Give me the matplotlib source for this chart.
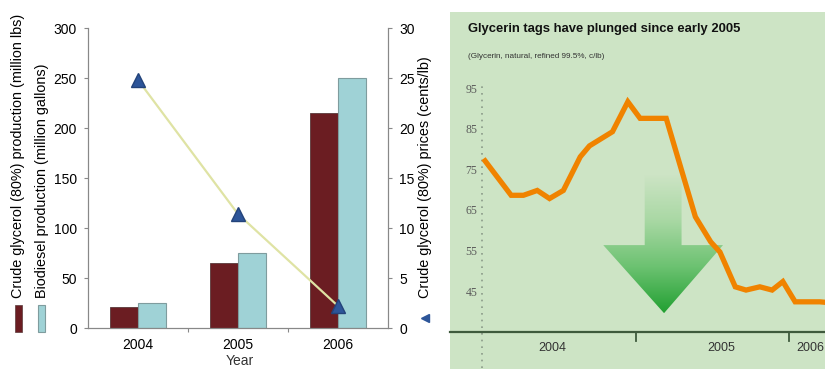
import numpy as np
import matplotlib
matplotlib.use("Agg")
import matplotlib.pyplot as plt
from matplotlib import font_manager as fm
from matplotlib.patches import Rectangle, Polygon
from matplotlib.colors import LinearSegmentedColormap

# left panel data
years = ["2004", "2005", "2006"]
glycerol_mlbs = [21, 65, 215]
biodiesel_mgal = [25, 75, 250]
glycerol_price = [24.8, 11.4, 2.2]

# right panel data (fractional year, cents/lb)
price_t = [2004.02, 2004.19, 2004.27, 2004.36, 2004.44, 2004.53, 2004.64, 2004.70,
           2004.85, 2004.95, 2005.03, 2005.20, 2005.30, 2005.39, 2005.49, 2005.55,
           2005.65, 2005.72, 2005.81, 2005.89, 2005.96, 2006.04, 2006.20, 2006.26]
price_v = [77.5, 69.0, 69.0, 70.2, 68.2, 70.2, 78.5, 81.2,
           84.7, 92.1, 88.0, 88.0, 75.2, 63.7, 57.5, 55.0,
           46.4, 45.6, 46.4, 45.6, 47.7, 42.7, 42.7, 42.5]
yticks_r = [45, 55, 65, 75, 85, 95]

W, H = 825, 369
fig = plt.figure(figsize=(W / 100, H / 100), dpi=100)


def box(x0, y0, x1, y1):
    # pixel box (top-left origin) -> figure fraction rect
    return [x0 / W, (H - y1) / H, (x1 - x0) / W, (y1 - y0) / H]


names = {f.name for f in fm.fontManager.ttflist}
sans = "Liberation Sans" if "Liberation Sans" in names else "DejaVu Sans"
serif = "Liberation Serif" if "Liberation Serif" in names else "DejaVu Serif"

# ---------------- left: bars + prices ----------------
ax = fig.add_axes(box(88, 28, 388, 328))
x = np.arange(len(years))
bw = 0.28
ax.bar(x - bw / 2, glycerol_mlbs, bw, color="#6b1d22", edgecolor="#5a3a3a", linewidth=0.6)
ax.bar(x + bw / 2, biodiesel_mgal, bw, color="#9fd2d6", edgecolor="#7f9c9e", linewidth=0.8)
ax.set_xlim(-0.5, 2.5)
ax.set_ylim(0, 300)
ax.set_yticks(range(0, 301, 50))
ax.set_xticks([0.5, 1.5])
ax.set_xticklabels([])
ax.tick_params(axis="x", length=3, color="#888888")
ax.tick_params(axis="y", length=3, color="#888888", labelsize=10, pad=5)
for lab in ax.get_yticklabels():
    lab.set_fontfamily(sans)
for i, yr in enumerate(years):
    ax.text(i, -10, yr, ha="center", va="top", fontsize=10, family=sans)
fig.text(240 / W, (H - 361) / H, "Year", ha="center", va="center", fontsize=10,
         family=sans, color="#333333")
ax.spines["top"].set_visible(False)
for s in ["left", "bottom", "right"]:
    ax.spines[s].set_color("#888888")
    ax.spines[s].set_linewidth(0.8)

ax2 = ax.twinx()
ax2.plot(x, glycerol_price, color="#dfe3a4", lw=1.6, zorder=1)
ax2.plot(x, glycerol_price, ls="none", marker="^", ms=10, color="#2d5599",
         markeredgecolor="#23437a", zorder=3)
ax2.set_ylim(0, 30)
ax2.set_yticks(range(0, 31, 5))
ax2.tick_params(axis="y", length=3, color="#888888", labelsize=10, pad=5)
for lab in ax2.get_yticklabels():
    lab.set_fontfamily(sans)
ax2.spines["top"].set_visible(False)
for s in ["left", "bottom", "right"]:
    ax2.spines[s].set_color("#888888")
    ax2.spines[s].set_linewidth(0.8)

# rotated axis titles with their legend keys
fig.text(18 / W, (H - 298) / H, "Crude glycerol (80%) production (million lbs)",
         rotation=90, ha="center", va="bottom", fontsize=10.4, family=sans)
fig.text(42 / W, (H - 298) / H, "Biodiesel production (million gallons)",
         rotation=90, ha="center", va="bottom", fontsize=10.4, family=sans)
fig.text(425 / W, (H - 298) / H, "Crude glycerol (80%) prices (cents/lb)",
         rotation=90, ha="center", va="bottom", fontsize=10.4, family=sans)
fig.patches.append(Rectangle((15 / W, (H - 332) / H), 7 / W, 27 / H, transform=fig.transFigure,
                             facecolor="#6b1d22", edgecolor="#5a3a3a", lw=0.5))
fig.patches.append(Rectangle((38 / W, (H - 332) / H), 7 / W, 27 / H, transform=fig.transFigure,
                             facecolor="#9fd2d6", edgecolor="#7f9c9e", lw=0.8))
fig.lines.append(plt.Line2D([425 / W], [(H - 318) / H], transform=fig.transFigure,
                            marker="<", ms=6, color="#2d5599", ls="none"))

# ---------------- right: glycerin price panel ----------------
bg = "#cde4c5"
axbg = fig.add_axes(box(450, 12, 825, 369))
axbg.set_facecolor(bg)
axbg.set_xticks([])
axbg.set_yticks([])
for s in axbg.spines.values():
    s.set_visible(False)

fig.text(468 / W, (H - 29) / H, "Glycerin tags have plunged since early 2005",
         ha="left", va="center", fontsize=9.4, weight="bold", family=sans, color="#111111")
fig.text(468 / W, (H - 57) / H, "(Glycerin, natural, refined 99.5%, c/lb)",
         ha="left", va="center", fontsize=5.9, family=sans, color="#333333")

axr = fig.add_axes(box(450, 80, 825, 332))
axr.patch.set_alpha(0)
x_lo = 2004 + (450 - 482) / 153.5
x_hi = 2004 + (825 - 482) / 153.5
y_lo = 95 - (332 - 90) / 4.05
y_hi = 95 - (80 - 90) / 4.05

# gradient arrow
arrow_t = [2005.06, 2005.30, 2005.30, 2005.57, 2005.186, 2004.79, 2005.06]
arrow_v = [74.0, 74.0, 56.7, 56.7, 39.9, 56.7, 56.7]
cmap = LinearSegmentedColormap.from_list("g", [bg, "#a9d8a4", "#6cc271", "#22a032"])
grad = np.linspace(0, 1, 256).reshape(-1, 1)
img = axr.imshow(grad, cmap=cmap, aspect="auto", origin="upper",
                 extent=[min(arrow_t), max(arrow_t), min(arrow_v), max(arrow_v)], zorder=1)
poly = Polygon(np.column_stack([arrow_t, arrow_v]), closed=True, facecolor="none",
               edgecolor="none", transform=axr.transData)
axr.add_patch(poly)
img.set_clip_path(poly)

axr.plot(price_t, price_v, color="#f08300", lw=3.8, solid_joinstyle="miter", zorder=3)
axr.set_xlim(x_lo, x_hi)
axr.set_ylim(y_lo, y_hi)
axr.set_xticks([])
axr.set_yticks([])
for s in ["top", "right", "left"]:
    axr.spines[s].set_visible(False)
axr.spines["bottom"].set_color("#3e5a3c")
axr.spines["bottom"].set_linewidth(1.6)

# dotted start line and y labels
axr.plot([2004, 2004], [y_lo - 9, 96], ls=(0, (1, 3)), color="#8a9a88", lw=1.2,
         clip_on=False, zorder=2)
for v in yticks_r:
    axr.text(2004 - 0.03, v, str(v), ha="right", va="center", fontsize=8.5,
             family=serif, color="#5a5a5a")
# year separators and labels
for t in [2005, 2006]:
    axr.plot([t, t], [y_lo, y_lo - 2.3], color="#3e5a3c", lw=1.3, clip_on=False)
for t, lab, ha in [(2004.46, "2004", "center"), (2005.56, "2005", "center"),
                   (x_hi - 0.005, "2006", "right")]:
    axr.text(t, y_lo - 4.0, lab, ha=ha, va="center", fontsize=9, family=sans,
             color="#333333", clip_on=False)

fig.savefig("out.png", dpi=100)
